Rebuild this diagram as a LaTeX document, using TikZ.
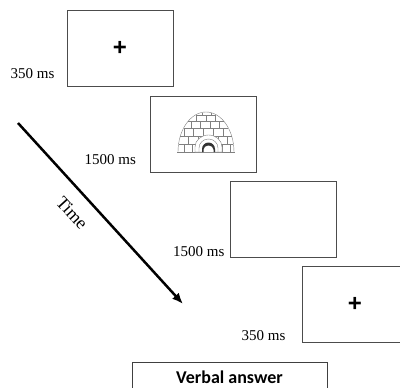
\documentclass[tikz,border=0pt]{standalone}
\usepackage{fontspec}
\setmainfont{Liberation Serif}
\newfontfamily\crossfont{Liberation Sans}
\newfontfamily\answerfont{Carlito}
\usetikzlibrary{arrows.meta,positioning}

\begin{document}
\begin{tikzpicture}[
    x=1pt, y=1pt,
    font=\rmfamily\fontsize{15}{18}\selectfont,
    screen/.style={draw=black!70, line width=0.8pt, minimum width=106pt, minimum height=76pt, inner sep=0pt},
    dur/.style={inner sep=0pt, anchor=base east},
    cross/.style={font=\crossfont\bfseries\fontsize{24}{24}\selectfont, inner sep=0pt},
    answer/.style={draw=black!75, line width=0.8pt, minimum width=195pt, minimum height=30pt, font=\answerfont\bfseries\fontsize{18}{20}\selectfont},
    timearrow/.style={-{Latex[length=11pt, width=9pt]}, line width=2.5pt},
    brick/.style={draw=black!50, line width=0.4pt}
  ]
    \useasboundingbox (0,0) rectangle (400,-388);
    \clip (0,0) rectangle (400,-388);

    % the four screens of one trial
    \node[screen] (screen1) at (120,-48) {};
    \node[screen] (screen2) at (203.5,-134) {};
    \node[screen] (screen3) at (283,-219) {};
    \node[screen] (screen4) at (355,-304.5) {};

    \node[cross] (fix1) at (screen1.center) {+};
    \node[cross] (fix2) at (screen4.center) {+};

    % durations
    \node[dur, left=12pt of screen1.south west, anchor=base east, yshift=8pt] (d1) {350 ms};
    \node[dur, left=14pt of screen2.south west, anchor=base east, yshift=8pt] (d2) {1500 ms};
    \node[dur, left=5pt of screen3.south west, anchor=base east, yshift=1pt] (d3) {1500 ms};
    \node[dur, left=16pt of screen4.south west, anchor=base east, yshift=2pt] (d4) {350 ms};

    % igloo picture
    \begin{scope}[shift={(206,-152)}]
      \fill[white] (-28,0) arc[start angle=180, end angle=0, x radius=28, y radius=40] -- cycle;
      \draw[brick] (-28,0) arc[start angle=180, end angle=0, x radius=28, y radius=40];
      \draw[brick] (-29,0) -- (29,0);
      \draw[brick] (-27.4,8) -- (27.4,8);
      \draw[brick] (-25.7,16) -- (25.7,16);
      \draw[brick] (-22.4,24) -- (22.4,24);
      \draw[brick] (-17.7,31) -- (17.7,31);
      \draw[brick] (-10,36.5) -- (10,36.5);
      % vertical joints
      \foreach \xa in {-22,-14,16,24} \draw[brick] (\xa,0) -- (\xa,8);
      \foreach \xa in {-18,-8,2,12,21} \draw[brick] (\xa,8) -- (\xa,16);
      \foreach \xa in {-22,-13,-3,7,17} \draw[brick] (\xa,16) -- (\xa,24);
      \foreach \xa in {-15,-6,4,13} \draw[brick] (\xa,24) -- (\xa,31);
      \foreach \xa in {-10,0,9} \draw[brick] (\xa,31) -- (\xa,36.5);
      \foreach \xa in {-4,5} \draw[brick] (\xa,36.5) -- (\xa,39.5);
      % entrance tunnel
      \filldraw[brick, fill=white] (-11,0) -- (-11,5) arc[start angle=180, end angle=0, x radius=13.5, y radius=12] -- (16,0) -- cycle;
      \draw[brick] (-7,0) -- (-7,4) arc[start angle=180, end angle=0, x radius=9.5, y radius=9] -- (12,0);
      \fill[black!80] (-4,0) -- (-4,3) arc[start angle=180, end angle=0, x radius=6.5, y radius=6.5] -- (9,0) -- cycle;
      \fill[white] (-2.5,0) -- (-2.5,2) arc[start angle=180, end angle=0, x radius=5, y radius=4.5] -- (7.5,0) -- cycle;
    \end{scope}

    % time axis
    \coordinate (tstart) at (18,-123);
    \coordinate (tend) at (183,-304);
    \draw[timearrow] (tstart) -- node[sloped, below=10pt, pos=0.42, font=\rmfamily\fontsize{18}{20}\selectfont] (tlabel) {Time} (tend);

    \node[answer] (verbal) at (229.5,-377) {Verbal answer};
  \end{tikzpicture}
\end{document}
